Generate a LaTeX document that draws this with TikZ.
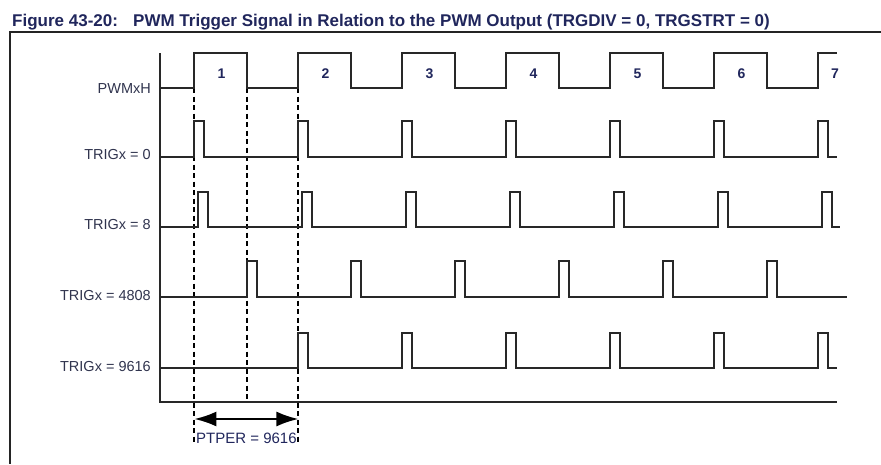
\documentclass[tikz,border=0pt]{standalone}
\usepackage{fontspec}
\setmainfont{Liberation Sans}
\usetikzlibrary{arrows.meta}
\definecolor{navy}{RGB}{32,38,92}
\definecolor{lab}{RGB}{48,52,78}
\definecolor{wave}{RGB}{40,40,40}
\tikzset{
  wv/.style={draw=wave,line width=2pt,line join=miter},
  frame/.style={draw=wave!90!black,line width=2.4pt},
  guide/.style={draw=black,line width=1.9pt,dash pattern=on 5pt off 3.5pt},
  siglabel/.style={anchor=base east,inner sep=0pt,text=lab,font=\fontsize{14.5}{16}\selectfont},
  numlabel/.style={anchor=base,inner sep=0pt,text=navy,font=\bfseries\fontsize{14}{15}\selectfont},
  titletext/.style={anchor=base west,inner sep=0pt,text=navy,font=\bfseries\fontsize{17}{19}\selectfont}
}
\begin{document}
\begin{tikzpicture}[x=1pt,y=-1pt]
\useasboundingbox (0,0) rectangle (881,464);
\def\X{194.4}\def\P{104}
% title and frame
\node[titletext] (title) at (12,26) {\makebox[121pt][l]{Figure 43-20:}PWM Trigger Signal in Relation to the PWM Output (TRGDIV = 0, TRGSTRT = 0)};
\coordinate (fl) at (10,32);
\coordinate (fr) at (881,32);
\coordinate (fb) at (10,464);
\draw[frame] (fr) -- (fl) -- (fb);
% axes
\coordinate (at) at (160,53);
\coordinate (ao) at (160,402);
\coordinate (ae) at (837,402);
\draw[wv] (at) -- (ao) -- (ae);
% guide lines
\coordinate (g1t) at (\X,88);
\coordinate (g1b) at (\X,443);
\coordinate (g2t) at (\X+52.5,88);
\coordinate (g2b) at (\X+52.5,402);
\coordinate (g3t) at (\X+\P,88);
\coordinate (g3b) at (\X+\P,443);
\draw[guide] (g1t) -- (g1b);
\draw[guide] (g2t) -- (g2b);
\draw[guide] (g3t) -- (g3b);
% PWMxH
\draw[wv] (160,88) foreach \k in {0,...,5} { -- ({\X+\P*\k},88) -- ++(0,-35) -- ++(52.5,0) -- ++(0,35) } -- ({\X+\P*6},88) -- ++(0,-35) -- (837,53);
% TRIGx = 0
\draw[wv] (160,157) foreach \k in {0,...,6} { -- ({\X+\P*\k},157) -- ++(0,-36) -- ++(10,0) -- ++(0,36) } -- (837,157);
% TRIGx = 8
\draw[wv] (160,227) foreach \k in {0,...,6} { -- ({\X+4+\P*\k},227) -- ++(0,-35) -- ++(10,0) -- ++(0,35) } -- (840,227);
% TRIGx = 4808
\draw[wv] (160,297) foreach \k in {0,...,5} { -- ({\X+52.5+\P*\k},297) -- ++(0,-36) -- ++(10,0) -- ++(0,36) } -- (847,297);
% TRIGx = 9616
\draw[wv] (160,368) foreach \k in {1,...,6} { -- ({\X+\P*\k},368) -- ++(0,-35) -- ++(10,0) -- ++(0,35) } -- (837,368);
% labels
\node[siglabel] (lp) at (151,93) {PWMxH};
\node[siglabel] (l0) at (151,159) {TRIGx = 0};
\node[siglabel] (l8) at (151,229) {TRIGx = 8};
\node[siglabel] (l4808) at (151,300) {TRIGx = 4808};
\node[siglabel] (l9616) at (151,371) {TRIGx = 9616};
% period numbers
\foreach \k/\n in {0/1,1/2,2/3,3/4,4/5,5/6} {
  \node[numlabel] (n\n) at ({\X+27+\P*\k},78) {\n};
}
\node[numlabel] (n7) at (835,78) {7};
% period arrow
\coordinate (pa) at (\X,419);
\coordinate (pb) at (\X+\P,419);
\draw[draw=black,line width=2pt,{Latex[length=22pt,width=15pt]}-{Latex[length=22pt,width=15pt]}] (pa) -- (pb);
\node[anchor=base,inner sep=0pt,text=navy,font=\fontsize{15}{17}\selectfont] (ptper) at ({\X+\P/2},443) {PTPER = 9616};
\end{tikzpicture}
\end{document}
